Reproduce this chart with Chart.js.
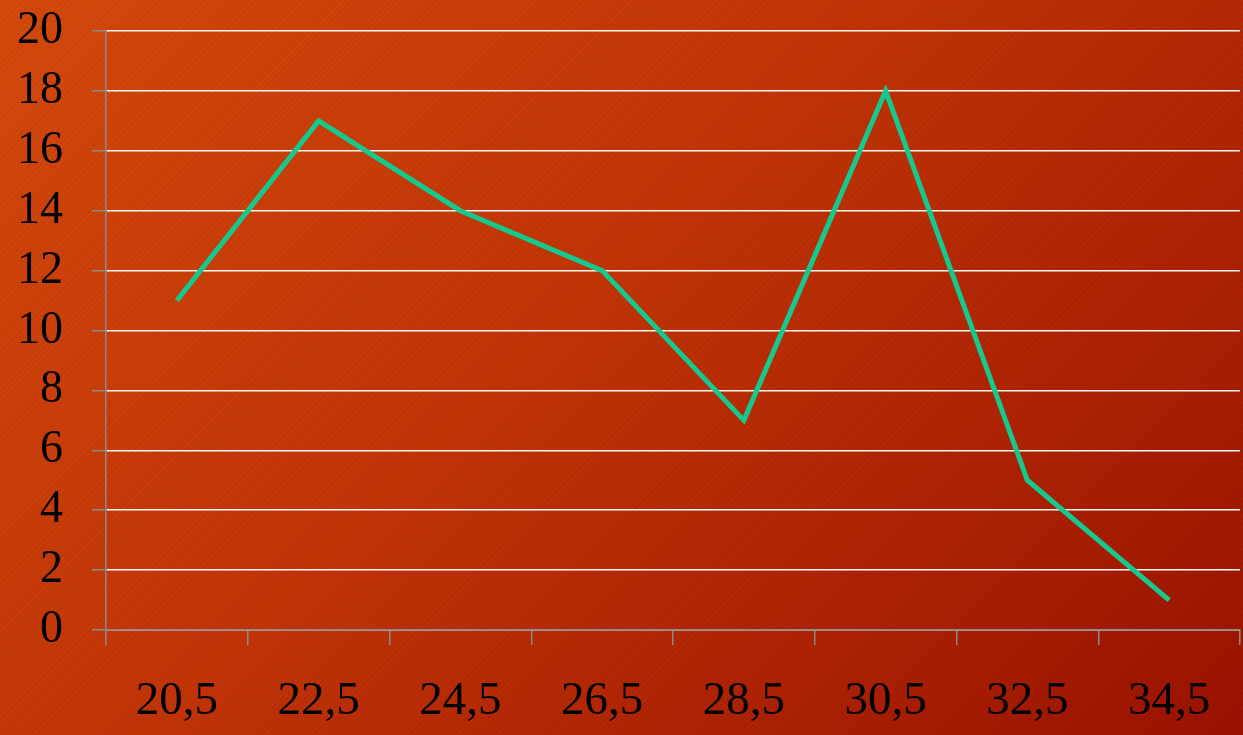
<!DOCTYPE html>
<html>
<head>
<meta charset="utf-8">
<script src="https://cdn.jsdelivr.net/npm/chart.js@4"></script>
<style>
  html, body { margin: 0; padding: 0; }
  body {
    width: 1243px; height: 735px; overflow: hidden;
    background:
      repeating-linear-gradient(135deg, rgba(0,0,0,0.045) 0 2px, rgba(255,255,255,0) 2px 4px),
      linear-gradient(135deg, #d64a0c 0%, #c23406 45%, #9c1200 100%);
  }
  #wrap { position: relative; width: 1243px; height: 735px; }
</style>
</head>
<body>
<div id="wrap"><canvas id="chart"></canvas></div>
<script>
// data
const categories = ["20,5", "22,5", "24,5", "26,5", "28,5", "30,5", "32,5", "34,5"];
const values = [11, 17, 14, 12, 7, 18, 5, 1];
const yTicks = [0, 2, 4, 6, 8, 10, 12, 14, 16, 18, 20];

const serif = "'Liberation Serif', 'Times New Roman', serif";

new Chart(document.getElementById("chart"), {
  type: "line",
  data: {
    labels: categories,
    datasets: [{
      data: values,
      borderColor: "#14c88e",
      borderWidth: 5,
      borderJoinStyle: "miter",
      pointRadius: 0,
      tension: 0,
      fill: false
    }]
  },
  options: {
    responsive: true,
    maintainAspectRatio: false,
    animation: false,
    layout: { padding: { top: 0, right: 3, left: 0, bottom: 0 } },
    plugins: { legend: { display: false }, tooltip: { enabled: false } },
    scales: {
      x: {
        offset: true,
        grid: {
          offset: true,
          display: true,
          drawOnChartArea: false,
          drawTicks: true,
          tickLength: 15,
          color: "#8a8a8a",
          lineWidth: 1.5
        },
        border: { display: true, color: "#8a8a8a", width: 1.5 },
        ticks: {
          color: "#000",
          font: { family: serif, size: 47 },
          padding: 28,
          maxRotation: 0,
          autoSkip: false
        },
        afterFit(scale) { scale.height = 105; }
      },
      y: {
        min: 0,
        max: 20,
        afterBuildTicks(scale) { scale.ticks = yTicks.map(v => ({ value: v })); },
        grid: {
          color: "rgba(255,248,245,1)",
          lineWidth: 1.5,
          drawTicks: true,
          tickLength: 14,
          tickColor: "#8a8a8a"
        },
        border: { display: true, color: "#8a8a8a", width: 1.5 },
        ticks: {
          color: "#000",
          font: { family: serif, size: 46 },
          padding: 29,
          autoSkip: false
        },
        afterFit(scale) {
          scale.width = 106;
          scale.paddingTop = 31;
          scale.paddingBottom = 0;
        }
      }
    }
  }
});
</script>
</body>
</html>
